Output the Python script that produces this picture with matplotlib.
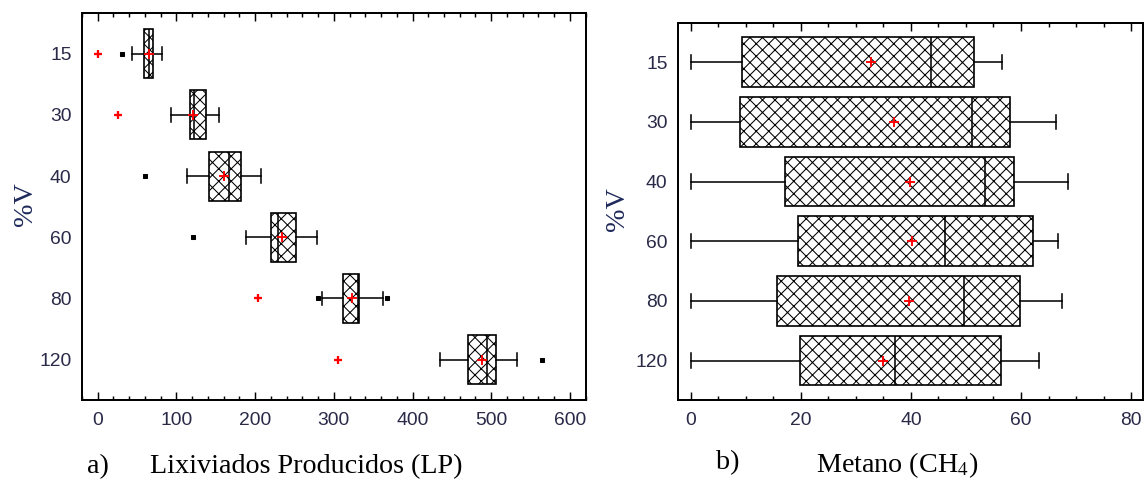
import matplotlib
matplotlib.use("Agg")
import matplotlib.pyplot as plt
from matplotlib.ticker import MultipleLocator

categories = ["15", "30", "40", "60", "80", "120"]

# a) Lixiviados Producidos (LP)
lp_q1 = [58.4, 116.8, 141.8, 220.0, 312.2, 470.8]
lp_med = [64.7, 121.8, 166.3, 229.7, 330.4, 494.0]
lp_q3 = [69.8, 137.6, 181.5, 252.0, 332.5, 506.0]
lp_wlo = [44.0, 92.6, 113.0, 187.9, 285.6, 434.5]
lp_whi = [81.2, 154.4, 208.0, 278.8, 362.2, 532.2]
lp_mean = [64.7, 121.5, 160.0, 234.4, 322.8, 487.8]
lp_out = [[31.3], [], [60.5], [121.0], [279.6, 368.0], [564.0]]
lp_far = [[0.5], [25.9], [], [], [204.0], [305.0]]

# b) Metano (CH4)
ch4_q1 = [9.4, 9.0, 17.1, 19.5, 15.7, 19.9]
ch4_med = [43.7, 51.1, 53.5, 46.2, 49.7, 37.1]
ch4_q3 = [51.4, 58.0, 58.7, 62.2, 59.8, 56.4]
ch4_wlo = [0.0, 0.0, 0.0, 0.0, 0.0, 0.0]
ch4_whi = [56.6, 66.4, 68.5, 66.8, 67.5, 63.2]
ch4_mean = [32.8, 37.0, 39.9, 40.2, 39.7, 35.0]

DPI = 75
plt.rcParams["hatch.linewidth"] = 1.0
plt.rcParams["mathtext.fontset"] = "stix"

tick_color = "#2a2a48"
label_color = "#1f2a5c"
serif = "Liberation Serif"
sans = "Liberation Sans"


def make_stats(q1, med, q3, wlo, whi, mean, out=None):
    stats = []
    for i in range(len(q1)):
        stats.append(dict(q1=q1[i], med=med[i], q3=q3[i], whislo=wlo[i],
                          whishi=whi[i], mean=mean[i],
                          fliers=out[i] if out else []))
    return stats


def draw_panel(ax, stats, width, capw, xlim, major, minor):
    pos = list(range(len(categories)))
    ax.bxp(stats, positions=pos, widths=width, capwidths=capw,
           orientation="horizontal", patch_artist=True, showmeans=True,
           boxprops=dict(facecolor="white", edgecolor="black", hatch="xx", linewidth=1.6),
           medianprops=dict(color="black", linewidth=1.5),
           whiskerprops=dict(color="black", linewidth=1.5),
           capprops=dict(color="black", linewidth=1.5),
           meanprops=dict(marker="+", markeredgecolor="red", markersize=10, markeredgewidth=1.8),
           flierprops=dict(marker="s", markerfacecolor="black", markeredgecolor="black",
                           markersize=4))
    ax.set_xlim(*xlim)
    ax.set_ylim(5.66, -0.66)
    ax.set_yticks(pos, categories)
    ax.xaxis.set_major_locator(MultipleLocator(major))
    ax.xaxis.set_minor_locator(MultipleLocator(minor))
    ax.tick_params(axis="x", which="both", direction="in", top=True, bottom=True,
                   width=1.4, labelsize=18.5, labelcolor=tick_color, pad=12)
    ax.tick_params(axis="x", which="major", length=8)
    ax.tick_params(axis="x", which="minor", length=4)
    ax.tick_params(axis="y", length=0, labelsize=18.5, labelcolor=tick_color, pad=10)
    for lab in ax.get_xticklabels() + ax.get_yticklabels():
        lab.set_fontfamily(sans)
    for sp in ax.spines.values():
        sp.set_linewidth(1.9)


fig = plt.figure(figsize=(1145 / DPI, 481 / DPI), dpi=DPI)
ax1 = fig.add_axes([0.0716, 0.1684, 0.4399, 0.804])
ax2 = fig.add_axes([0.5921, 0.1684, 0.4059, 0.7844])

draw_panel(ax1, make_stats(lp_q1, lp_med, lp_q3, lp_wlo, lp_whi, lp_mean, lp_out),
           0.8, 0.22, (-20, 620), 100, 20)
for i, vals in enumerate(lp_far):
    ax1.plot(vals, [i] * len(vals), linestyle="none", marker="+", color="red",
             markersize=8, markeredgewidth=2.2)

draw_panel(ax2, make_stats(ch4_q1, ch4_med, ch4_q3, ch4_wlo, ch4_whi, ch4_mean),
           0.83, 0.24, (-2.3, 82.1), 20, 5)

ax1.text(0.01, -0.14, "a)", transform=ax1.transAxes, ha="left", va="top",
         fontsize=27, family=serif)
ax1.text(0.446, -0.14, "Lixiviados Producidos (LP)", transform=ax1.transAxes,
         ha="center", va="top", fontsize=27, family=serif)
ax1.text(-0.113, 0.507, "%V", transform=ax1.transAxes, rotation=90, ha="center",
         va="center", fontsize=27, family=serif, color=label_color)

ax2.text(0.082, -0.133, "b)", transform=ax2.transAxes, ha="left", va="top",
         fontsize=27, family=serif)
ax2.text(0.473, -0.133, "Metano (CH$_4$)", transform=ax2.transAxes,
         ha="center", va="top", fontsize=27, family=serif)
ax2.text(-0.131, 0.506, "%V", transform=ax2.transAxes, rotation=90, ha="center",
         va="center", fontsize=27, family=serif, color=label_color)

fig.savefig("out.png", dpi=DPI)
